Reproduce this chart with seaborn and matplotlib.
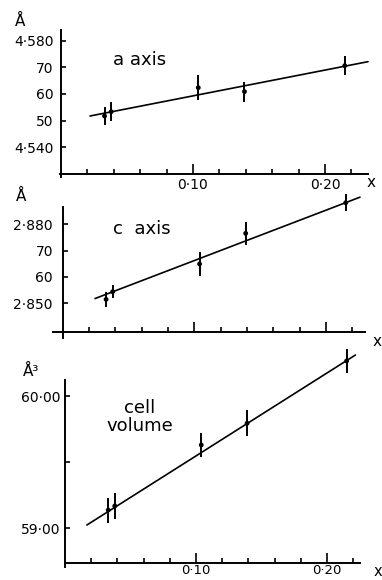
import matplotlib
matplotlib.use("Agg")
import matplotlib.pyplot as plt
import seaborn as sns

# Composition x of the five samples (shared by all three panels)
x = [0.033, 0.038, 0.104, 0.139, 0.215]

# a lattice parameter (Å) with error bars and fitted line end points
a_axis = [4.5517, 4.5533, 4.5624, 4.5609, 4.5707]
a_err = [0.0035, 0.0035, 0.0047, 0.0038, 0.0036]
a_fit_x = [0.022, 0.2326]
a_fit_y = [4.5517, 4.5722]

# c lattice parameter (Å)
c_axis = [2.8515, 2.8544, 2.8649, 2.8765, 2.8881]
c_err = [0.0028, 0.0025, 0.0046, 0.0044, 0.0032]
c_fit_x = [0.0246, 0.2258]
c_fit_y = [2.8518, 2.8902]

# cell volume (Å³)
volume = [59.138, 59.169, 59.63, 59.794, 60.265]
volume_err = [0.094, 0.10, 0.09, 0.10, 0.088]
volume_fit_x = [0.0167, 0.2217]
volume_fit_y = [59.025, 60.31]

# tick positions and labels
a_ticks = [4.540, 4.550, 4.560, 4.570, 4.580]
a_tick_labels = ["4·540", "50", "60", "70", "4·580"]
c_ticks = [2.850, 2.860, 2.870, 2.880]
c_tick_labels = ["2·850", "60", "70", "2·880"]
v_ticks = [59.00, 59.50, 60.00]
v_tick_labels = ["59·00", "", "60·00"]
x_major = [0.10, 0.20]
x_major_labels = ["0·10", "0·20"]
x_minor = [0.02, 0.04, 0.06, 0.08, 0.12, 0.14, 0.16, 0.18, 0.22]

sns.set_theme(style="ticks")
plt.rcParams["font.family"] = ["DejaVu Sans"]

W, H = 382, 580
fig = plt.figure(figsize=(W / 100, H / 100), dpi=100)
fig.patch.set_facecolor("white")


def rect(left, right, top, bottom):
    return [left / W, 1 - bottom / H, (right - left) / W, (bottom - top) / H]


def ftext(px, py, s, **kw):
    fig.text(px / W, 1 - py / H, s, color="black", **kw)


def panel(box, xlim, ylim, base, y, err, fit_x, fit_y, yticks, ylabels,
          ypad, xlabels, xpad, xsize=10):
    ax = fig.add_axes(rect(*box))
    ax.set_facecolor("none")
    ax.set_xlim(*xlim)
    ax.set_ylim(*ylim)

    sns.lineplot(x=fit_x, y=fit_y, ax=ax, color="black", lw=1.2,
                 sort=False, clip_on=False)
    eb = ax.errorbar(x, y, yerr=err, fmt="none", ecolor="black",
                     elinewidth=1.4, capsize=0)
    for coll in eb.lines[2]:
        coll.set_clip_on(False)
    sns.scatterplot(x=x, y=y, ax=ax, color="black", s=12,
                    edgecolor="none", clip_on=False, zorder=3)

    for side in ("top", "right"):
        ax.spines[side].set_visible(False)
    ax.spines["left"].set_position(("data", 0))
    ax.spines["bottom"].set_position(("data", base))
    for side in ("left", "bottom"):
        ax.spines[side].set_linewidth(1.4)
        ax.spines[side].set_color("black")

    ax.set_xticks(x_major)
    ax.set_xticks(x_minor, minor=True)
    if xlabels:
        ax.set_xticklabels(x_major_labels)
    else:
        ax.set_xticklabels([])
    ax.set_yticks(yticks)
    ax.set_yticklabels(ylabels)
    ax.tick_params(axis="x", which="major", direction="in", length=7,
                   width=1.2, pad=xpad, labelsize=xsize, colors="black")
    ax.tick_params(axis="x", which="minor", direction="in", length=3.6,
                   width=1.2, colors="black")
    ax.tick_params(axis="y", which="major", direction="in", length=3.5,
                   width=1.2, pad=ypad, labelsize=10, colors="black")
    ax.set_xlabel("")
    ax.set_ylabel("")
    return ax


# a axis
panel((60, 368, 30, 177), (-0.00076, 0.2326), (4.52868, 4.58415), 4.530,
      a_axis, a_err, a_fit_x, a_fit_y, a_ticks, a_tick_labels,
      ypad=5.5, xlabels=True, xpad=3)
ftext(20, 21, "Å", fontsize=11, ha="center", va="center")
ftext(113, 60, "a axis", fontsize=13, ha="left", va="center")
ftext(371, 182, "x", fontsize=11, ha="center", va="center")

# c axis
panel((53, 365, 206.7, 338), (-0.00729, 0.2296), (2.83686, 2.88659), 2.83924,
      c_axis, c_err, c_fit_x, c_fit_y, c_ticks, c_tick_labels,
      ypad=7, xlabels=False, xpad=3)
ftext(21, 196, "Å", fontsize=11, ha="center", va="center")
ftext(113, 229, "c  axis", fontsize=13, ha="left", va="center")
ftext(377, 342, "x", fontsize=11, ha="center", va="center")

# cell volume
panel((65, 360, 380, 566.7), (0.0, 0.2252), (58.710, 60.121), 58.740,
      volume, volume_err, volume_fit_x, volume_fit_y, v_ticks, v_tick_labels,
      ypad=3.5, xlabels=True, xpad=1.2, xsize=9.5)
ftext(31, 371, "Å³", fontsize=11, ha="center", va="center")
ftext(140, 417, "cell\nvolume", fontsize=13, ha="center", va="center",
      linespacing=0.95)
ftext(378, 572, "x", fontsize=10.5, ha="center", va="center")

fig.savefig("out.png", dpi=100, facecolor="white")
